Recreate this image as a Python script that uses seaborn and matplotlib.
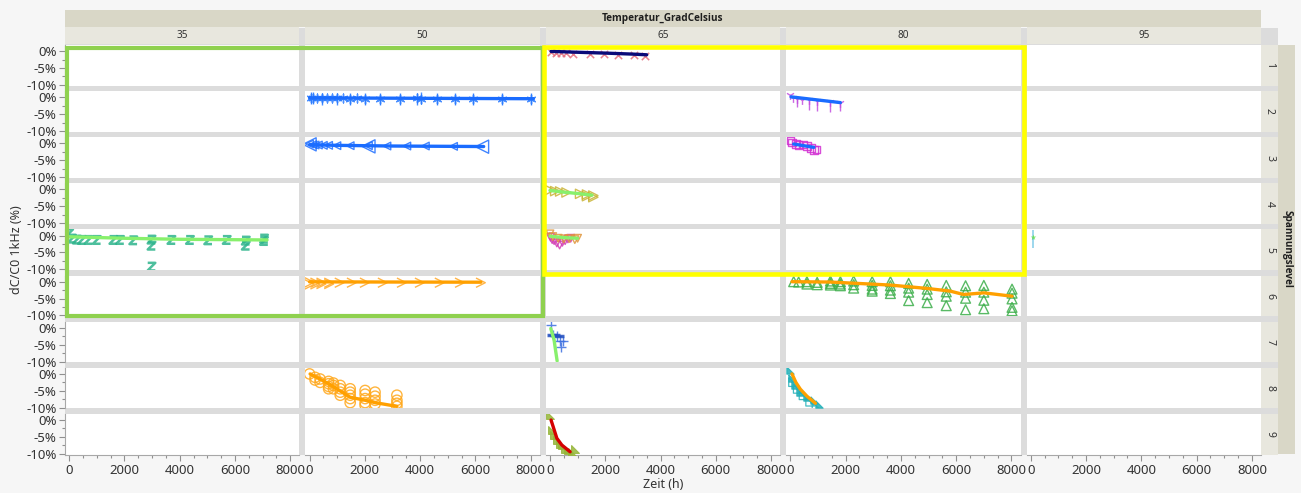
import matplotlib
matplotlib.use("Agg")
import numpy as np
import pandas as pd
import matplotlib.pyplot as plt
from matplotlib.patches import Rectangle
from matplotlib.path import Path
from matplotlib.ticker import MultipleLocator, FuncFormatter
from matplotlib.font_manager import FontProperties, findfont
import seaborn as sns

W, H = 1301, 493

temperaturen = [35, 50, 65, 80, 95]
spannungslevel = [1, 2, 3, 4, 5, 6, 7, 8, 9]
x_ticks = [0, 2000, 4000, 6000, 8000]
y_ticks = [0, -5, -10]

# ---------------- measurements: Zeit (h) / dC/C0 (%) ----------------
# level 1, 65 C
zeit_1_65 = [40, 220, 400, 580, 840, 1450, 1950, 2460, 3040, 3440]
dc_1_65 = [-0.4, -0.6, -0.6, -0.7, -0.8, -0.9, -0.9, -1.1, -1.2, -1.6]
fit_zeit_1_65 = [40, 1000, 2000, 3000, 3500]
fit_dc_1_65 = [-0.1, -0.35, -0.6, -0.9, -1.1]

# level 2, 50 C
zeit_2_50 = [50, 130, 265, 445, 625, 805, 990, 1220, 1470, 1710, 2010, 2560,
             3280, 3880, 4030, 4600, 5270, 5930, 6950, 8000]
dc_2_50 = [-0.1, -0.2, -0.3, -0.3, -0.3, -0.3, -0.3, -0.3, -0.4, -0.3, -0.4,
           -0.4, -0.4, -0.3, -0.4, -0.4, -0.4, -0.4, -0.5, -0.5]
zeit_2_50_b = [50, 130, 445, 990, 1470, 2010, 2560, 3280, 3880, 4030, 4600,
               5270, 5930, 6950, 8000]
dc_2_50_b = [-0.2, -0.3, -0.4, -0.4, -0.5, -0.4, -0.5, -0.5, -0.6, -0.3, -0.5,
             -0.5, -0.6, -0.6, -0.6]
fit_zeit_2_50 = [0, 8100]
fit_dc_2_50 = [-0.2, -0.45]

# level 2, 80 C
zeit_2_80 = [0, 100, 240, 420, 660, 965, 1450, 1810]
dc_2_80 = [0.6, -0.3, -0.6, -0.8, -0.9, -1.1, -1.3, -1.6]
zeit_2_80_b = [240, 660, 965, 1450, 1810]
dc_2_80_b = [-1.5, -2.4, -2.6, -2.8, -2.6]
fit_zeit_2_80 = [25, 1810]
fit_dc_2_80 = [0.1, -1.6]

# level 3, 50 C
zeit_3_50 = [0, 120, 200, 320, 500, 690, 990, 1470, 2130, 2800, 3520, 4190, 5210]
dc_3_50 = [-0.2, -0.4, -0.5, -0.5, -0.6, -0.6, -0.7, -0.7, -0.7, -0.8, -0.8,
           -0.8, -0.9]
zeit_3_50_b = [0, 2130, 6240]
dc_3_50_b = [-0.3, -0.9, -1.0]
fit_zeit_3_50 = [0, 1000, 3000, 6300]
fit_dc_3_50 = [-0.4, -0.6, -0.8, -0.95]

# level 3, 80 C
zeit_3_80 = [0, 60, 200, 300, 450, 600, 750, 850, 950]
dc_3_80 = [0.8, 0.3, -0.2, -0.5, -0.4, -0.8, -1.3, -2.0, -1.8]
fit_zeit_3_80 = [120, 850]
fit_dc_3_80 = [-0.2, -1.2]

# level 4, 65 C
zeit_4_65 = [0, 190, 370, 600, 1090, 1340, 1570, 1340, 1570]
dc_4_65 = [-0.2, -0.5, -0.6, -0.9, -1.3, -1.5, -1.8, -2.0, -2.3]
fit_zeit_4_65 = [0, 500, 1000, 1520]
fit_dc_4_65 = [-0.3, -0.8, -1.2, -1.7]

# level 5, 35 C
zeit_5_35 = [0, 100, 280, 460, 700, 1000, 1600, 1840, 2320, 2980, 2980, 2980,
             3700, 4370, 5030, 5700, 6390, 6390, 7050, 7050]
dc_5_35 = [0.7, -0.9, -1.2, -1.3, -1.3, -1.3, -1.3, -1.3, -1.4, -1.2, -3.0,
           -9.2, -1.3, -1.3, -1.4, -1.3, -1.5, -3.0, -1.6, -0.9]
fit_zeit_5_35 = [0, 2000, 4000, 7160]
fit_dc_5_35 = [-0.35, -0.8, -1.1, -1.3]

# level 5, 65 C
zeit_5_65_a = [20, 80, 150, 250, 350, 450, 550, 650, 750]
dc_5_65_a = [-0.5, -1.2, -1.5, -2.2, -2.8, -2.0, -1.5, -1.0, -0.8]
zeit_5_65_b = [0, 100, 300, 500, 700, 900, 1000]
dc_5_65_b = [0.5, -0.3, -0.8, -1.0, -0.9, -1.2, -0.8]
fit_zeit_5_65 = [0, 500, 1000]
fit_dc_5_65 = [-0.2, -0.6, -0.8]

# level 5, 95 C
zeit_5_95 = [90, 90]
dc_5_95 = [0.3, -2.2]
zeit_5_95_b = [90]
dc_5_95_b = [-0.5]

# level 6, 50 C
zeit_6_50 = [0, 200, 420, 700, 1080, 1520, 1990, 2640, 3330, 3980, 4700,
             5430, 6190, 0, 200, 420, 700]
dc_6_50 = [-0.2, -0.3, -0.3, -0.3, -0.3, -0.3, -0.3, -0.3, -0.3, -0.3, -0.3,
           -0.3, -0.3, -0.8, -0.8, -0.7, -0.7]
fit_zeit_6_50 = [0, 6200]
fit_dc_6_50 = [-0.05, -0.15]

# level 6, 80 C
zeit_6_80 = [120, 300, 600, 600, 970, 970, 1450, 1450, 1450, 1810, 1810, 1810,
             2290, 2290, 2290, 2960, 2960, 2960, 2960, 3620, 3620, 3620, 3620,
             4280, 4280, 4280, 4280, 4950, 4950, 4950, 4950, 5640, 5640, 5640,
             5640, 6340, 6340, 6340, 6340, 7000, 7000, 7000, 7000, 8020, 8020,
             8020, 8020, 8020]
dc_6_80 = [0.0, -0.1, 0.0, -0.7, -0.2, -0.9, 0.2, -0.5, -1.0, 0.0, -0.7, -1.2,
           0.2, -0.9, -1.9, 0.0, -1.1, -2.2, -2.8, 0.0, -1.2, -2.5, -3.5,
           -0.5, -1.9, -3.1, -5.6, -0.8, -2.2, -3.8, -6.2, -1.1, -3.0, -4.3,
           -7.1, -1.2, -3.1, -4.9, -8.3, -1.1, -3.1, -5.5, -8.0, -2.2, -3.4,
           -5.1, -7.6, -8.6]
fit_zeit_6_80 = [60, 1450, 3620, 4950, 5790, 6270, 7000, 8020]
fit_dc_6_80 = [0.0, -0.1, -1.0, -2.0, -2.8, -3.8, -3.3, -4.3]

# level 7, 65 C
zeit_7_65 = [30, 120, 250, 370, 400, 480]
dc_7_65 = [0.8, -2.0, -2.4, -3.8, -5.6, -3.9]
zeit_7_65_b = [60, 200, 330]
dc_7_65_b = [-2.2, -2.2, -2.3]
fit_zeit_7_65 = [30, 100, 150, 200, 260]
fit_dc_7_65 = [-0.2, -2.2, -3.6, -6.5, -9.8]

# level 8, 50 C
zeit_8_50 = [0, 200, 200, 380, 380, 690, 690, 690, 690, 865, 865, 865,
             1110, 1110, 1110, 1110, 1470, 1470, 1470, 1470, 1470,
             2010, 2010, 2010, 2010, 2010, 2370, 2370, 2370, 2370,
             3160, 3160, 3160, 3160]
dc_8_50 = [0.0, -1.0, -1.8, -1.5, -2.5, -2.2, -2.9, -3.7, -4.4, -2.7, -3.4,
           -4.4, -3.4, -4.4, -5.4, -6.3, -4.4, -5.4, -6.3, -7.3, -8.5,
           -4.9, -6.0, -7.3, -8.5, -9.3, -5.4, -6.6, -7.8, -8.9,
           -6.3, -7.8, -8.7, -9.6]
fit_zeit_8_50 = [20, 690, 1470, 2010, 2370, 3160]
fit_dc_8_50 = [0.0, -2.9, -6.9, -7.8, -8.5, -9.6]

# level 8, 80 C
zeit_8_80 = [0, 60, 180, 360, 600, 840, 1020]
dc_8_80 = [1.2, -1.3, -3.3, -5.3, -6.8, -7.8, -8.8]
zeit_8_80_b = [100, 270, 480, 720, 950]
dc_8_80_b = [-2.4, -4.4, -6.3, -8.2, -9.6]
fit_zeit_8_80 = [60, 200, 360, 600, 910]
fit_dc_8_80 = [0.0, -2.5, -4.5, -6.6, -8.7]

# level 9, 65 C
zeit_9_65 = [0, 80, 150, 250, 350, 450, 550, 650, 800, 900]
dc_9_65 = [1.5, -3.0, -4.5, -6.0, -7.0, -7.5, -8.5, -9.0, -9.5, -8.5]
fit_zeit_9_65 = [40, 250, 430, 730]
fit_dc_9_65 = [0.0, -5.4, -7.4, -9.4]

# ---------------- marker shapes and styles ----------------
chevron = Path([(-1, 1), (1, 0), (-1, -1)])
zmark = Path([(-1, 1), (1, 1), (-1, -1), (1, -1)])
flag = Path([(-1, 1), (1, -1), (-1, -1), (-1, 1)])
asterisk = (6, 2, 0)

styles = {
    "rose_x":      dict(marker="x", color="#e46b7c", s=28, linewidths=1.1),
    "blue_star":   dict(marker=asterisk, color="#2a7bff", s=40, linewidths=1.0),
    "blue_bar":    dict(marker="|", color="#2a7bff", s=70, linewidths=1.0),
    "blue_tri":    dict(marker="<", color="#1f6fff", s=30, linewidths=1.0, hollow=True),
    "blue_tri_l":  dict(marker="<", color="#1f6fff", s=90, linewidths=1.0, hollow=True),
    "violet_y":    dict(marker="1", color="#c24ee0", s=40, linewidths=1.0),
    "violet_bar":  dict(marker="|", color="#c24ee0", s=60, linewidths=1.0),
    "magenta_sq":  dict(marker="s", color="#d22ed2", s=30, linewidths=1.0, hollow=True),
    "olive_tri":   dict(marker=">", color="#c9b436", s=45, linewidths=1.0, hollow=True),
    "teal_z":      dict(marker=zmark, color="#2eb48c", s=30, linewidths=1.8, hollow=True),
    "pink_v":      dict(marker="v", color="#d23cb4", s=30, linewidths=1.0, hollow=True),
    "amber_v":     dict(marker="v", color="#e0963c", s=30, linewidths=1.0, hollow=True),
    "sky_bar":     dict(marker="|", color="#78c8e6", s=60, linewidths=1.2),
    "lime_star":   dict(marker="*", color="#64e050", s=18, linewidths=0.0),
    "orange_chev": dict(marker=chevron, color="#ffa828", s=45, linewidths=1.0, hollow=True),
    "green_tri":   dict(marker="^", color="#3cae4a", s=50, linewidths=1.0, hollow=True),
    "blue_plus":   dict(marker="+", color="#3c6ee0", s=55, linewidths=1.0),
    "navy_dash":   dict(marker="_", color="#2450c0", s=55, linewidths=2.5),
    "orange_ring": dict(marker="o", color="#ffa81c", s=55, linewidths=1.0, hollow=True),
    "teal_flag":   dict(marker=flag, color="#22b0b8", s=28, linewidths=0.8),
    "teal_flag_o": dict(marker=flag, color="#22b0b8", s=40, linewidths=0.9, hollow=True),
    "olive_flag":  dict(marker=flag, color="#96b63a", s=32, linewidths=0.8),
}

series = [
    (1, 65, zeit_1_65, dc_1_65, "rose_x"),
    (2, 50, zeit_2_50, dc_2_50, "blue_star"),
    (2, 50, zeit_2_50_b, dc_2_50_b, "blue_bar"),
    (2, 80, zeit_2_80, dc_2_80, "violet_y"),
    (2, 80, zeit_2_80_b, dc_2_80_b, "violet_bar"),
    (3, 50, zeit_3_50, dc_3_50, "blue_tri"),
    (3, 50, zeit_3_50_b, dc_3_50_b, "blue_tri_l"),
    (3, 80, zeit_3_80, dc_3_80, "magenta_sq"),
    (4, 65, zeit_4_65, dc_4_65, "olive_tri"),
    (5, 35, zeit_5_35, dc_5_35, "teal_z"),
    (5, 65, zeit_5_65_a, dc_5_65_a, "pink_v"),
    (5, 65, zeit_5_65_b, dc_5_65_b, "amber_v"),
    (5, 95, zeit_5_95, dc_5_95, "sky_bar"),
    (5, 95, zeit_5_95_b, dc_5_95_b, "lime_star"),
    (6, 50, zeit_6_50, dc_6_50, "orange_chev"),
    (6, 80, zeit_6_80, dc_6_80, "green_tri"),
    (7, 65, zeit_7_65, dc_7_65, "blue_plus"),
    (7, 65, zeit_7_65_b, dc_7_65_b, "navy_dash"),
    (8, 50, zeit_8_50, dc_8_50, "orange_ring"),
    (8, 80, zeit_8_80, dc_8_80, "teal_flag"),
    (8, 80, zeit_8_80_b, dc_8_80_b, "teal_flag_o"),
    (9, 65, zeit_9_65, dc_9_65, "olive_flag"),
]

fits = [
    (1, 65, fit_zeit_1_65, fit_dc_1_65, "#0a0a78"),
    (2, 50, fit_zeit_2_50, fit_dc_2_50, "#1a6cff"),
    (2, 80, fit_zeit_2_80, fit_dc_2_80, "#1a6cff"),
    (3, 50, fit_zeit_3_50, fit_dc_3_50, "#1a6cff"),
    (3, 80, fit_zeit_3_80, fit_dc_3_80, "#1a6cff"),
    (4, 65, fit_zeit_4_65, fit_dc_4_65, "#88f06c"),
    (5, 35, fit_zeit_5_35, fit_dc_5_35, "#88f06c"),
    (5, 65, fit_zeit_5_65, fit_dc_5_65, "#88f06c"),
    (6, 50, fit_zeit_6_50, fit_dc_6_50, "#ffa000"),
    (6, 80, fit_zeit_6_80, fit_dc_6_80, "#ffa000"),
    (7, 65, fit_zeit_7_65, fit_dc_7_65, "#88f06c"),
    (8, 50, fit_zeit_8_50, fit_dc_8_50, "#ffa000"),
    (8, 80, fit_zeit_8_80, fit_dc_8_80, "#ffa000"),
    (9, 65, fit_zeit_9_65, fit_dc_9_65, "#d40000"),
]

punkte = pd.concat(
    [pd.DataFrame({"Spannungslevel": lv, "Temperatur": tc, "Zeit": zt, "dC": dc, "Stil": st})
     for lv, tc, zt, dc, st in series], ignore_index=True)
kurven = pd.concat(
    [pd.DataFrame({"Spannungslevel": lv, "Temperatur": tc, "Zeit": zt, "dC": dc, "Farbe": fc})
     for lv, tc, zt, dc, fc in fits], ignore_index=True)

# ---------------- figure ----------------
sns.set_theme(style="white")
plt.rcParams["font.family"] = ["Noto Sans", "DejaVu Sans"]


def bold_family():
    # first family that really ships a bold face
    for fam in ["Noto Sans", "Open Sans", "Lato", "Roboto", "Liberation Sans", "DejaVu Sans"]:
        path = findfont(FontProperties(family=fam, weight="bold"), fallback_to_default=False)
        if "bold" in path.lower():
            return fam
    return "DejaVu Sans"


BOLD = bold_family()

TXT = "#333333"
GAP = "#dcdcdc"
STRIP = "#e8e7de"
BAND = "#d9d7c7"


def fx(px):
    return px / W


def fy(py):
    return 1 - py / H


fig, axes = plt.subplots(
    9, 5, figsize=(W / 100, H / 100), dpi=100, sharex=True, sharey=True,
    gridspec_kw=dict(left=fx(65), right=fx(1261), top=fy(45), bottom=fy(454.5),
                     wspace=6 / 234.4, hspace=5.6 / 40.5))
fig.patch.set_facecolor("#f6f6f6")

# grey frame behind the panels (shows through as separators)
fig.add_artist(Rectangle((fx(65), fy(455)), (1278 - 65) / W, (455 - 27.5) / H,
                         transform=fig.transFigure, facecolor=GAP, edgecolor="none",
                         zorder=-5))

for i, lv in enumerate(spannungslevel):
    for j, tc in enumerate(temperaturen):
        ax = axes[i, j]
        ax.set_facecolor("white")
        for sp in ax.spines.values():
            sp.set_visible(False)
        ax.set_xlim(-150, 8330)
        ax.set_ylim(-10.2, 1.8)

        pts = punkte[(punkte.Spannungslevel == lv) & (punkte.Temperatur == tc)]
        for st, grp in pts.groupby("Stil", sort=False):
            kw = dict(styles[st])
            hollow = kw.pop("hollow", False)
            col = kw.pop("color")
            if hollow:
                kw.update(facecolor="none", edgecolor=col)
            elif isinstance(kw["marker"], Path):
                kw.update(facecolor=col, edgecolor=col)
            sns.scatterplot(data=grp, x="Zeit", y="dC", ax=ax, color=col,
                            alpha=0.85, legend=False, zorder=3, **kw)

        crv = kurven[(kurven.Spannungslevel == lv) & (kurven.Temperatur == tc)]
        if len(crv):
            sns.lineplot(data=crv, x="Zeit", y="dC", ax=ax, color=crv.Farbe.iloc[0],
                         lw=2.4, sort=False, estimator=None, legend=False, zorder=4)

        ax.set_xlabel("")
        ax.set_ylabel("")
        ax.xaxis.set_major_locator(plt.FixedLocator(x_ticks))
        ax.xaxis.set_minor_locator(MultipleLocator(500))
        ax.yaxis.set_major_locator(plt.FixedLocator(y_ticks))
        ax.yaxis.set_minor_locator(MultipleLocator(2.5))
        ax.yaxis.set_major_formatter(FuncFormatter(lambda v, p: f"{v:.0f}%"))
        ax.tick_params(which="both", length=0, labelsize=9, labelcolor=TXT, pad=2)

        if j == 0:
            ax.spines["left"].set_visible(True)
            ax.spines["left"].set_color("#a8a8a8")
            ax.spines["left"].set_linewidth(0.8)
            ax.tick_params(axis="y", which="major", left=True, length=4,
                           color="#909090", width=0.8, labelsize=9.5)
            ax.tick_params(axis="y", which="minor", left=True, length=2,
                           color="#909090", width=0.8)
        if i == len(spannungslevel) - 1:
            ax.spines["bottom"].set_visible(True)
            ax.spines["bottom"].set_color("#a8a8a8")
            ax.spines["bottom"].set_linewidth(0.8)
            ax.tick_params(axis="x", which="major", bottom=True, length=4,
                           color="#909090", width=0.8, labelsize=9.5, pad=3)
            ax.tick_params(axis="x", which="minor", bottom=True, length=2,
                           color="#909090", width=0.8)

# header band and column strips
hdr = fig.add_axes([fx(65), fy(27.3), (1261 - 65) / W, 17 / H])
hdr.set_facecolor(BAND)
hdr.set_xticks([]); hdr.set_yticks([])
for sp in hdr.spines.values():
    sp.set_visible(False)
hdr.text(0.5, 0.5, "Temperatur_GradCelsius", ha="center", va="center",
         fontsize=7.2, fontweight="bold", family=[BOLD, "DejaVu Sans"],
         color="#1e1e1e", transform=hdr.transAxes)

for j, tc in enumerate(temperaturen):
    pos = axes[0, j].get_position()
    sx = fig.add_axes([pos.x0, fy(44.3), pos.width, 17 / H])
    sx.set_facecolor(STRIP)
    sx.set_xticks([]); sx.set_yticks([])
    for sp in sx.spines.values():
        sp.set_visible(False)
    sx.text(0.5, 0.5, str(tc), ha="center", va="center", fontsize=7.2,
            color=TXT, transform=sx.transAxes)

# row strips and outer band
for i, lv in enumerate(spannungslevel):
    pos = axes[i, -1].get_position()
    sy = fig.add_axes([fx(1261), pos.y0, 17 / W, pos.height])
    sy.set_facecolor(STRIP)
    sy.set_xticks([]); sy.set_yticks([])
    for sp in sy.spines.values():
        sp.set_visible(False)
    sy.text(0.5, 0.5, str(lv), ha="center", va="center", fontsize=7.5,
            rotation=270, color=TXT, transform=sy.transAxes)

band = fig.add_axes([fx(1278.3), fy(453.5), 17 / W, (453.5 - 45) / H])
band.set_facecolor(BAND)
band.set_xticks([]); band.set_yticks([])
for sp in band.spines.values():
    sp.set_visible(False)
band.text(0.5, 0.5, "Spannungslevel", ha="center", va="center", fontsize=7.2,
          fontweight="bold", family=[BOLD, "DejaVu Sans"], rotation=270,
          color="#1e1e1e", transform=band.transAxes)

# axis titles
fig.text(fx(17), fy(250), "dC/C0 1kHz (%)", rotation=90, ha="center", va="center",
         fontsize=9, color=TXT)
fig.text(fx(663), fy(485), "Zeit (h)", ha="center", va="center", fontsize=9, color=TXT)

# highlighted regions
fig.add_artist(Rectangle((fx(67), fy(316.3)), (543 - 67) / W, (316.3 - 47.5) / H,
                         transform=fig.transFigure, fill=False, edgecolor="#8fd14f",
                         lw=3.0, zorder=20))
fig.add_artist(Rectangle((fx(543.5), fy(274)), (1023.7 - 543.5) / W, (274 - 46.7) / H,
                         transform=fig.transFigure, fill=False, edgecolor="#ffff00",
                         lw=3.3, zorder=21))

fig.savefig("out.png", dpi=100, facecolor=fig.get_facecolor())
